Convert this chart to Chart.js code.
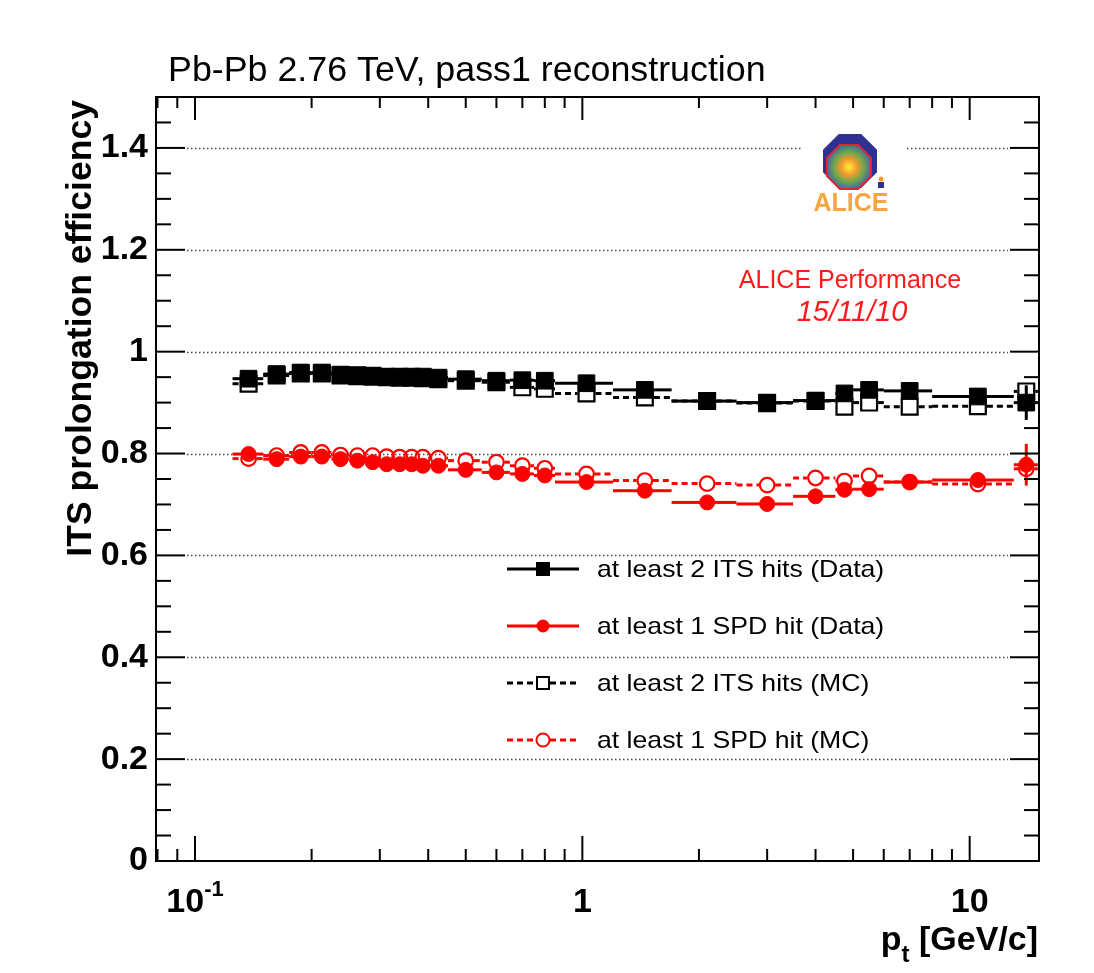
<!DOCTYPE html>
<html>
<head>
<meta charset="utf-8">
<script src="https://cdn.jsdelivr.net/npm/chart.js@4.4.1/dist/chart.umd.min.js"></script>
<style>
  html, body { margin: 0; padding: 0; background: #fff; }
</style>
</head>
<body>
<canvas id="c" width="1094" height="973"></canvas>
<script>
const FONT = '"Liberation Sans", Arial, Helvetica, sans-serif';

// pt bins [GeV/c]
const ptCenter = [0.1375, 0.1625, 0.1875, 0.2125, 0.2375, 0.2625, 0.2875, 0.3125, 0.3375, 0.3625, 0.3875, 0.425, 0.5,
  0.6, 0.7, 0.8, 1.025, 1.45, 2.1, 3.0, 4.0, 4.75, 5.5, 7.0, 10.5, 14.0];
const ptLow = [0.125, 0.15, 0.175, 0.2, 0.225, 0.25, 0.275, 0.3, 0.325, 0.35, 0.375, 0.4, 0.45,
  0.55, 0.65, 0.75, 0.85, 1.2, 1.7, 2.5, 3.5, 4.5, 5, 6, 8, 13];
const ptHigh = [0.15, 0.175, 0.2, 0.225, 0.25, 0.275, 0.3, 0.325, 0.35, 0.375, 0.4, 0.45, 0.55,
  0.65, 0.75, 0.85, 1.2, 1.7, 2.5, 3.5, 4.5, 5, 6, 8, 13, 15];

// efficiencies
const its2Data = [0.947, 0.956, 0.959, 0.959, 0.955, 0.954, 0.953, 0.951, 0.951, 0.951, 0.951, 0.949, 0.946,
  0.943, 0.944, 0.943, 0.938, 0.925, 0.903, 0.900, 0.904, 0.918, 0.925, 0.923, 0.912, 0.900];
const its2DataErr = [0.002, 0.002, 0.002, 0.002, 0.002, 0.002, 0.002, 0.002, 0.002, 0.002, 0.002, 0.002, 0.002,
  0.002, 0.002, 0.002, 0.002, 0.003, 0.003, 0.004, 0.005, 0.006, 0.006, 0.007, 0.010, 0.034];
const spd1Data = [0.799, 0.789, 0.794, 0.794, 0.789, 0.786, 0.783, 0.779, 0.779, 0.779, 0.776, 0.776, 0.768,
  0.763, 0.760, 0.757, 0.744, 0.727, 0.704, 0.701, 0.716, 0.729, 0.730, 0.744, 0.748, 0.778];
const spd1DataErr = [0.002, 0.002, 0.002, 0.002, 0.002, 0.002, 0.002, 0.002, 0.002, 0.002, 0.002, 0.002, 0.002,
  0.002, 0.002, 0.002, 0.003, 0.003, 0.004, 0.004, 0.005, 0.006, 0.007, 0.008, 0.012, 0.041];
const its2MC = [0.937, 0.953, 0.957, 0.957, 0.953, 0.952, 0.951, 0.950, 0.949, 0.949, 0.948, 0.946, 0.943,
  0.940, 0.930, 0.927, 0.918, 0.910, 0.903, 0.899, 0.903, 0.892, 0.900, 0.892, 0.893, 0.922];
const its2MCErr = [0.001, 0.001, 0.001, 0.001, 0.001, 0.001, 0.001, 0.001, 0.001, 0.001, 0.001, 0.001, 0.001,
  0.001, 0.001, 0.001, 0.002, 0.002, 0.002, 0.003, 0.003, 0.004, 0.004, 0.005, 0.006, 0.015];
const spd1MC = [0.790, 0.796, 0.802, 0.802, 0.797, 0.796, 0.796, 0.794, 0.793, 0.793, 0.793, 0.791, 0.786,
  0.783, 0.776, 0.771, 0.760, 0.747, 0.741, 0.738, 0.752, 0.746, 0.756, 0.744, 0.740, 0.770];
const spd1MCErr = [0.001, 0.001, 0.001, 0.001, 0.001, 0.001, 0.001, 0.001, 0.001, 0.001, 0.001, 0.001, 0.001,
  0.001, 0.001, 0.001, 0.002, 0.002, 0.002, 0.003, 0.003, 0.004, 0.004, 0.005, 0.006, 0.012];

const yTicks = [0, 0.2, 0.4, 0.6, 0.8, 1, 1.2, 1.4];
const yTickLabels = ['0', '0.2', '0.4', '0.6', '0.8', '1', '1.2', '1.4'];
const xMajor = [0.1, 1, 10];
const xMinor = [0.08, 0.09, 0.2, 0.3, 0.4, 0.5, 0.6, 0.7, 0.8, 0.9, 2, 3, 4, 5, 6, 7, 8, 9];
const xMin = 0.0793, xMax = 15.1;
const yMin = 0, yMax = 1.5;

const legendLabels = ['at least 2 ITS hits (Data)', 'at least 1 SPD hit (Data)',
  'at least 2 ITS hits (MC)', 'at least 1 SPD hit (MC)'];

const pts = vals => vals.map((v, i) => ({ x: ptCenter[i], y: v }));

function txt(ctx, s, x, y, font, color, align, sx) {
  ctx.save();
  ctx.font = font;
  ctx.fillStyle = color;
  ctx.textAlign = align || 'left';
  ctx.textBaseline = 'alphabetic';
  ctx.translate(x, y);
  ctx.scale(sx || 1, 1);
  ctx.fillText(s, 0, 0);
  ctx.restore();
}

function seg(ctx, x0, y0, x1, y1) {
  ctx.beginPath();
  ctx.moveTo(x0, y0);
  ctx.lineTo(x1, y1);
  ctx.stroke();
}

function octagon(ctx, cx, cy, ap) {
  const R = ap / Math.cos(Math.PI / 8);
  ctx.beginPath();
  for (let k = 0; k < 8; k++) {
    const a = Math.PI / 8 + k * Math.PI / 4;
    ctx.lineTo(cx + R * Math.cos(a), cy + R * Math.sin(a));
  }
  ctx.closePath();
}

function drawLogo(ctx) {
  ctx.save();
  ctx.fillStyle = '#fff';
  ctx.fillRect(801, 128, 104, 92);
  octagon(ctx, 850, 161, 27);
  ctx.fillStyle = '#2e3192';
  ctx.fill();
  octagon(ctx, 849, 167, 22);
  const g = ctx.createRadialGradient(849, 167, 1, 849, 167, 24);
  g.addColorStop(0, '#fbe43a');
  g.addColorStop(0.3, '#f39a2b');
  g.addColorStop(0.6, '#6fa84a');
  g.addColorStop(1, '#3a5db0');
  ctx.fillStyle = g;
  ctx.fill();
  ctx.strokeStyle = '#e3262d';
  ctx.lineWidth = 2;
  ctx.stroke();
  // small figure next to the octagon
  ctx.fillStyle = '#f39a2b';
  ctx.beginPath();
  ctx.arc(881, 179, 2.5, 0, Math.PI * 2);
  ctx.fill();
  ctx.fillStyle = '#2e3192';
  ctx.fillRect(878, 182, 6, 6);
  ctx.restore();
  txt(ctx, 'ALICE', 851, 211, 'bold 25px ' + FONT, '#f7a540', 'center');
}

const rootStyle = {
  id: 'rootStyle',
  beforeDatasetsDraw(chart) {
    const { ctx, chartArea: a, scales: { x, y } } = chart;
    ctx.save();
    ctx.strokeStyle = '#444';
    ctx.lineWidth = 1.4;
    ctx.setLineDash([1.5, 2.5]);
    yTicks.forEach(v => {
      if (v === 0) return;
      const py = Math.round(y.getPixelForValue(v)) + 0.5;
      seg(ctx, a.left + 31, py, a.right - 31, py);
    });
    ctx.restore();

    drawLogo(ctx);

    // horizontal (bin width) and vertical error bars
    ctx.save();
    ctx.beginPath();
    ctx.rect(a.left, a.top, a.right - a.left, a.bottom - a.top);
    ctx.clip();
    chart.data.datasets.forEach(ds => {
      ctx.save();
      ctx.strokeStyle = ds.borderColor;
      ctx.lineWidth = 3;
      ctx.setLineDash(ds.errDash);
      const gap = ds.gap;
      ds.data.forEach((p, i) => {
        const px = x.getPixelForValue(p.x), py = y.getPixelForValue(p.y);
        const x0 = x.getPixelForValue(ds.xLow[i]), x1 = x.getPixelForValue(ds.xHigh[i]);
        if (px - gap > x0) seg(ctx, x0, py, px - gap, py);
        if (x1 > px + gap) seg(ctx, px + gap, py, x1, py);
        const yUp = y.getPixelForValue(p.y + ds.yErr[i]), yDn = y.getPixelForValue(p.y - ds.yErr[i]);
        ctx.setLineDash([]);
        if (py - yUp > gap) seg(ctx, px, yUp, px, py - gap);
        if (yDn - py > gap) seg(ctx, px, py + gap, px, yDn);
        ctx.setLineDash(ds.errDash);
      });
      ctx.restore();
    });
    ctx.restore();
  },
  afterDraw(chart) {
    const { ctx, chartArea: a, scales: { x, y } } = chart;
    ctx.save();
    ctx.strokeStyle = '#000';
    ctx.lineWidth = 2;
    ctx.strokeRect(a.left, a.top, a.right - a.left, a.bottom - a.top);

    // y ticks on both sides
    for (let v = 0; v <= 1.5001; v += 0.05) {
      const py = y.getPixelForValue(v);
      const major = Math.abs(v / 0.2 - Math.round(v / 0.2)) < 1e-6;
      const len = major ? 29 : 15;
      seg(ctx, a.left, py, a.left + len, py);
      seg(ctx, a.right, py, a.right - len, py);
    }
    // x ticks top and bottom
    xMajor.concat(xMinor).forEach(v => {
      if (v <= xMin || v >= xMax) return;
      const px = x.getPixelForValue(v);
      const major = xMajor.includes(v);
      seg(ctx, px, a.bottom, px, a.bottom - (major ? 25 : 12));
      seg(ctx, px, a.top, px, a.top + (major ? 23 : 11));
    });
    ctx.restore();

    // x tick labels
    const bold = s => 'bold ' + s + 'px ' + FONT;
    ctx.save();
    ctx.font = bold(34);
    const w10 = ctx.measureText('10').width;
    ctx.font = bold(22);
    const wExp = ctx.measureText('-1').width;
    ctx.restore();
    const p01 = x.getPixelForValue(0.1);
    const l0 = p01 - (w10 + wExp) / 2;
    txt(ctx, '10', l0, 912, bold(34), '#000', 'left');
    txt(ctx, '-1', l0 + w10, 896, bold(22), '#000', 'left');
    txt(ctx, '1', x.getPixelForValue(1), 912, bold(34), '#000', 'center');
    txt(ctx, '10', x.getPixelForValue(10), 912, bold(34), '#000', 'center');

    // x axis title, right aligned
    ctx.save();
    ctx.font = bold(34);
    const wRest = ctx.measureText(' [GeV/c]').width;
    const wP = ctx.measureText('p').width;
    ctx.font = bold(24);
    const wT = ctx.measureText('t').width;
    ctx.restore();
    const xr = 1038;
    txt(ctx, ' [GeV/c]', xr, 950, bold(34), '#000', 'right');
    txt(ctx, 't', xr - wRest - wT, 962, bold(24), '#000', 'left');
    txt(ctx, 'p', xr - wRest - wT - wP, 950, bold(34), '#000', 'left');

    // y axis title, rotated, aligned to the top of the axis
    ctx.save();
    ctx.translate(91, 100);
    ctx.rotate(-Math.PI / 2);
    ctx.font = bold(35.6);
    ctx.fillStyle = '#000';
    ctx.textAlign = 'right';
    ctx.fillText('ITS prolongation efficiency', 0, 0);
    ctx.restore();

    // title
    txt(ctx, 'Pb-Pb 2.76 TeV, pass1 reconstruction', 168, 81, '35.8px ' + FONT, '#000', 'left');

    // performance label
    txt(ctx, 'ALICE Performance', 850, 288, '25px ' + FONT, '#ff1a1a', 'center');
    txt(ctx, '15/11/10', 852, 321, 'italic 29px ' + FONT, '#ff1a1a', 'center');

    // legend
    const rows = [569, 626, 683, 740];
    chart.data.datasets.forEach((ds, i) => {
      const ly = rows[i];
      ctx.save();
      ctx.strokeStyle = ds.borderColor;
      ctx.lineWidth = 3;
      ctx.setLineDash(ds.errDash);
      const g = ds.legendGap;
      seg(ctx, 507, ly, 543 - g, ly);
      seg(ctx, 543 + g, ly, 579, ly);
      ctx.setLineDash([]);
      ctx.lineWidth = 2;
      if (ds.pointStyle === 'rect') {
        if (ds.filled) { ctx.fillStyle = ds.borderColor; ctx.fillRect(536, ly - 7, 14, 14); }
        else ctx.strokeRect(537, ly - 6, 12, 12);
      } else {
        ctx.beginPath();
        ctx.arc(543, ly, 6.5, 0, Math.PI * 2);
        if (ds.filled) { ctx.fillStyle = ds.borderColor; ctx.fill(); }
        else ctx.stroke();
      }
      ctx.restore();
      txt(ctx, legendLabels[i], 597, ly + 8, '24px ' + FONT, '#000', 'left', 1.11);
    });
  }
};

new Chart(document.getElementById('c'), {
  type: 'scatter',
  data: {
    datasets: [
      { label: legendLabels[0], data: pts(its2Data), xLow: ptLow, xHigh: ptHigh, yErr: its2DataErr,
        pointStyle: 'rect', pointRadius: 11.8, borderWidth: 1, borderColor: '#000', backgroundColor: '#000',
        errDash: [], gap: 8, legendGap: 0, filled: true },
      { label: legendLabels[1], data: pts(spd1Data), xLow: ptLow, xHigh: ptHigh, yErr: spd1DataErr,
        pointStyle: 'circle', pointRadius: 7.5, borderWidth: 1, borderColor: '#ff0000', backgroundColor: '#ff0000',
        errDash: [], gap: 7, legendGap: 0, filled: true },
      { label: legendLabels[2], data: pts(its2MC), xLow: ptLow, xHigh: ptHigh, yErr: its2MCErr,
        pointStyle: 'rect', pointRadius: 11.2, borderWidth: 2.2, borderColor: '#000', backgroundColor: 'rgba(0,0,0,0)',
        errDash: [6, 4], gap: 9, legendGap: 7, filled: false },
      { label: legendLabels[3], data: pts(spd1MC), xLow: ptLow, xHigh: ptHigh, yErr: spd1MCErr,
        pointStyle: 'circle', pointRadius: 7.3, borderWidth: 2.2, borderColor: '#ff0000', backgroundColor: 'rgba(0,0,0,0)',
        errDash: [6, 4], gap: 8, legendGap: 7, filled: false }
    ]
  },
  options: {
    responsive: false,
    animation: false,
    layout: { padding: { left: 0, right: 55, top: 97, bottom: 0 } },
    plugins: { legend: { display: false }, tooltip: { enabled: false } },
    scales: {
      x: {
        type: 'logarithmic', min: xMin, max: xMax,
        grid: { display: false }, border: { display: false },
        ticks: { display: false },
        afterFit: s => { s.height = 112; }
      },
      y: {
        min: yMin, max: yMax,
        afterBuildTicks: s => { s.ticks = yTicks.map(v => ({ value: v })); },
        grid: { display: false }, border: { display: false },
        ticks: {
          autoSkip: false, padding: 0, color: '#000',
          font: { family: FONT, size: 34, weight: 'bold' },
          callback: (v, i) => yTickLabels[i]
        },
        afterFit: s => { s.width = 156; }
      }
    }
  },
  plugins: [rootStyle]
});
</script>
</body>
</html>
